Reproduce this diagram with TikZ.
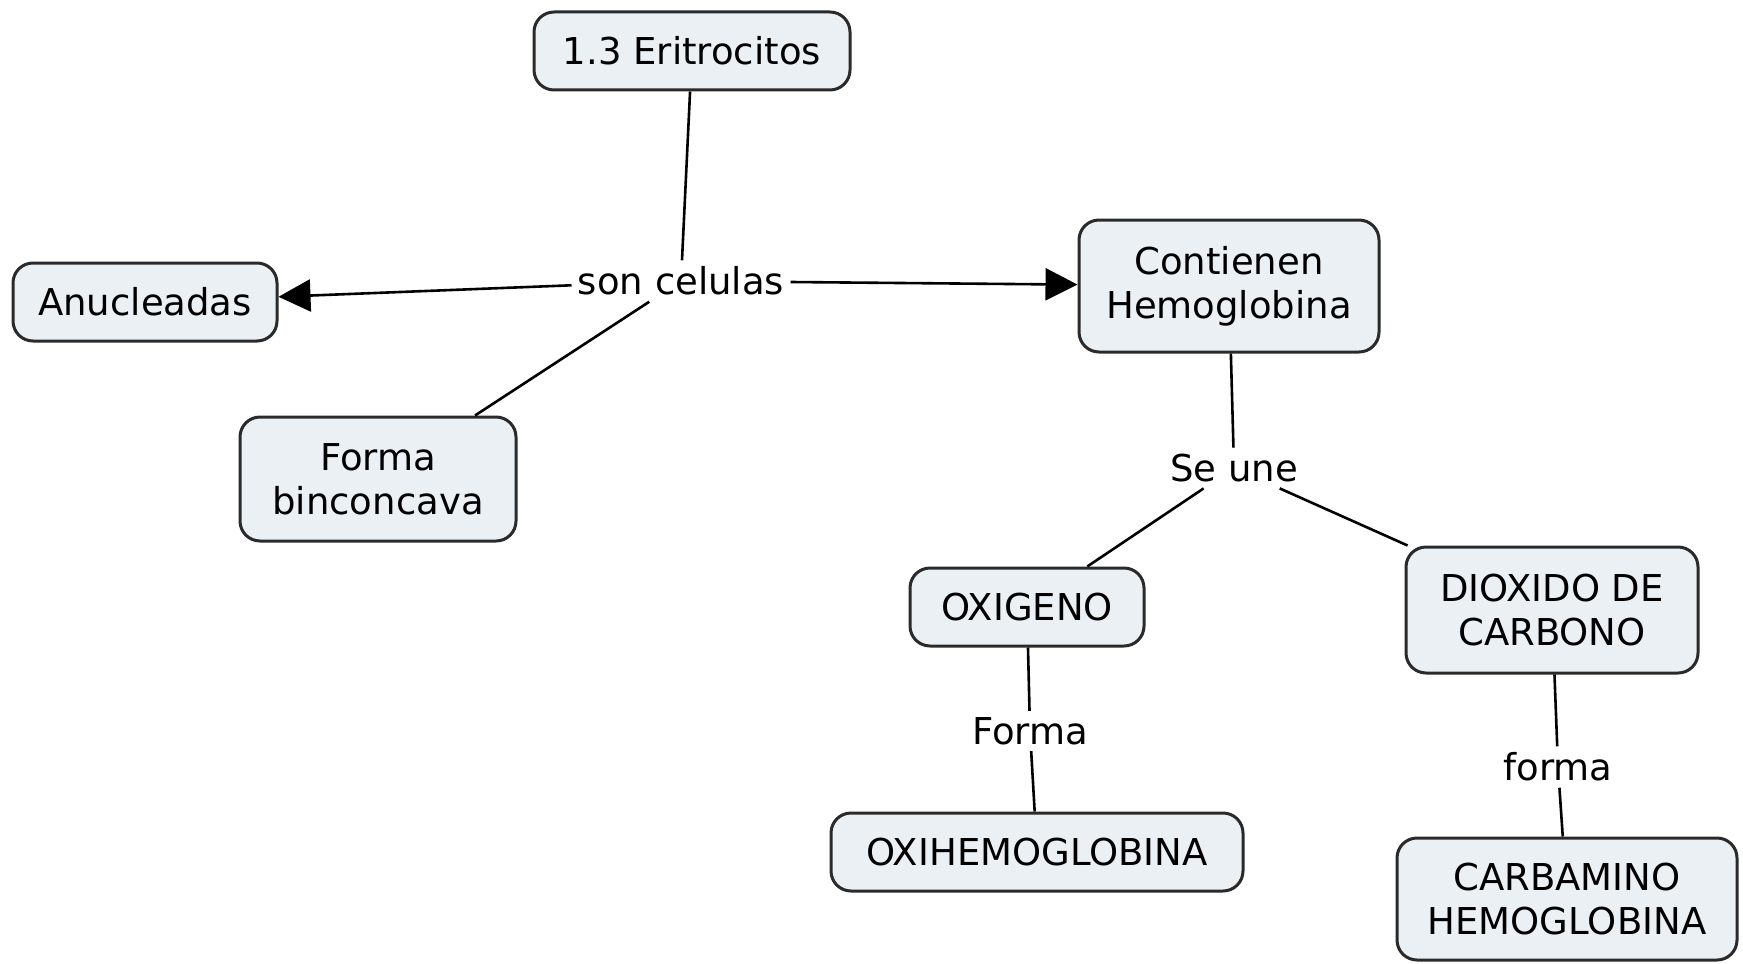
\documentclass[tikz,border=0pt]{standalone}
\usepackage{fontspec}
\setmainfont{DejaVu Sans}
\usetikzlibrary{arrows.meta}
\definecolor{boxfill}{HTML}{EBF0F4}
\definecolor{boxline}{HTML}{2A2A2A}
\begin{document}
\begin{tikzpicture}[x=0.5pt,y=-0.5pt,
        concept/.style={draw=boxline, line width=1.5pt, fill=boxfill, rounded corners=10pt,
            align=center, inner sep=0pt, minimum height=39pt, font=\fontsize{18.5}{22}\selectfont},
        linkword/.style={inner sep=3pt, font=\fontsize{18.5}{22}\selectfont},
        link/.style={line width=1.3pt, draw=black},
        tip/.style={link, -{Triangle[length=16pt,width=16pt]}}]
        \useasboundingbox (0,0) rectangle (1743,963);

        \node[concept, minimum width=158pt] (erit) at (692,51) {1.3 Eritrocitos};
        \node[linkword] (son) at (681,281) {son celulas};
        \node[concept, minimum width=132pt] (anuc) at (145,302) {Anucleadas};
        \node[concept, minimum width=138pt, minimum height=62pt] (bicon) at (378,479) {Forma\\binconcava};
        \node[concept, minimum width=150pt, minimum height=66pt] (hemo) at (1229,286) {Contienen\\Hemoglobina};

        \node[linkword] (une) at (1234,468) {Se une};
        \node[concept, minimum width=117pt] (oxi) at (1027,607) {OXIGENO};
        \node[concept, minimum width=146pt, minimum height=63pt] (dioxi) at (1552,610) {DIOXIDO DE\\CARBONO};

        \node[linkword] (forma1) at (1030,731) {Forma};
        \node[concept, minimum width=206pt] (oxihemo) at (1037,852) {OXIHEMOGLOBINA};
        \node[linkword] (forma2) at (1558,767) {forma};
        \node[concept, minimum width=170pt, minimum height=61pt] (carba) at (1567,899) {CARBAMINO\\HEMOGLOBINA};

        \draw[link] (erit) -- (son);
        \draw[tip] (son) -- (anuc);
        \draw[link] (son) -- (bicon);
        \draw[tip] (son) -- (hemo);

        \draw[link] (hemo) -- (une);
        \draw[link] (une) -- (oxi);
        \draw[link] (une) -- (dioxi);

        \draw[link] (oxi) -- (forma1);
        \draw[link] (forma1) -- (oxihemo);
        \draw[link] (dioxi) -- (forma2);
        \draw[link] (forma2) -- (carba);

    \end{tikzpicture}
\end{document}
